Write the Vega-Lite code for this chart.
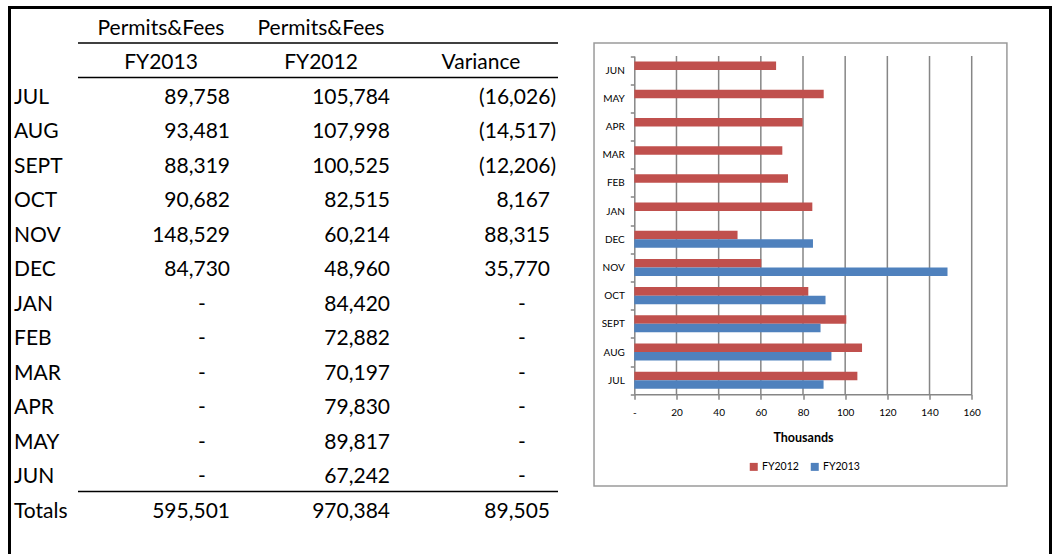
{
  "$schema": "https://vega.github.io/schema/vega-lite/v6.json",
  "autosize": {"type": "none"},
  "padding": {"left": 9.5, "top": 7.5, "right": 2.5, "bottom": 0},
  "width": 1041,
  "height": 552,
  "background": "#ffffff",
  "config": {
    "view": {"stroke": "#000000", "strokeWidth": 3},
    "font": "Lato",
    "text": {"font": "Lato", "fontSize": 21, "color": "#000000"}
  },
  "datasets": {
    "table": [
      {"row": "h1", "section": "header", "FY2013": "Permits&Fees", "FY2012": "Permits&Fees", "Variance": ""},
      {"row": "h2", "section": "header", "FY2013": "FY2013", "FY2012": "FY2012", "Variance": "Variance"},
      {"row": "JUL", "section": "body", "FY2013": "89,758", "FY2012": "105,784", "Variance": "(16,026)"},
      {"row": "AUG", "section": "body", "FY2013": "93,481", "FY2012": "107,998", "Variance": "(14,517)"},
      {"row": "SEPT", "section": "body", "FY2013": "88,319", "FY2012": "100,525", "Variance": "(12,206)"},
      {"row": "OCT", "section": "body", "FY2013": "90,682", "FY2012": "82,515", "Variance": "8,167"},
      {"row": "NOV", "section": "body", "FY2013": "148,529", "FY2012": "60,214", "Variance": "88,315"},
      {"row": "DEC", "section": "body", "FY2013": "84,730", "FY2012": "48,960", "Variance": "35,770"},
      {"row": "JAN", "section": "body", "FY2013": "-", "FY2012": "84,420", "Variance": "-"},
      {"row": "FEB", "section": "body", "FY2013": "-", "FY2012": "72,882", "Variance": "-"},
      {"row": "MAR", "section": "body", "FY2013": "-", "FY2012": "70,197", "Variance": "-"},
      {"row": "APR", "section": "body", "FY2013": "-", "FY2012": "79,830", "Variance": "-"},
      {"row": "MAY", "section": "body", "FY2013": "-", "FY2012": "89,817", "Variance": "-"},
      {"row": "JUN", "section": "body", "FY2013": "-", "FY2012": "67,242", "Variance": "-"},
      {"row": "Totals", "section": "total", "FY2013": "595,501", "FY2012": "970,384", "Variance": "89,505"}
    ],
    "months": [
      {"month": "JUL", "series": "FY2012", "value": 105.784},
      {"month": "AUG", "series": "FY2012", "value": 107.998},
      {"month": "SEPT", "series": "FY2012", "value": 100.525},
      {"month": "OCT", "series": "FY2012", "value": 82.515},
      {"month": "NOV", "series": "FY2012", "value": 60.214},
      {"month": "DEC", "series": "FY2012", "value": 48.96},
      {"month": "JAN", "series": "FY2012", "value": 84.42},
      {"month": "FEB", "series": "FY2012", "value": 72.882},
      {"month": "MAR", "series": "FY2012", "value": 70.197},
      {"month": "APR", "series": "FY2012", "value": 79.83},
      {"month": "MAY", "series": "FY2012", "value": 89.817},
      {"month": "JUN", "series": "FY2012", "value": 67.242},
      {"month": "JUL", "series": "FY2013", "value": 89.758},
      {"month": "AUG", "series": "FY2013", "value": 93.481},
      {"month": "SEPT", "series": "FY2013", "value": 88.319},
      {"month": "OCT", "series": "FY2013", "value": 90.682},
      {"month": "NOV", "series": "FY2013", "value": 148.529},
      {"month": "DEC", "series": "FY2013", "value": 84.73}
    ],
    "ticks": [{"t": 20}, {"t": 40}, {"t": 60}, {"t": 80}, {"t": 100}, {"t": 120}, {"t": 140}, {"t": 160}],
    "lines": [{"line": "h2"}, {"line": "JUL"}, {"line": "Totals"}],
    "frame": [{"frame": "chart"}]
  },
  "layer": [
    {
      "data": {"name": "table"},
      "layer": [
        {
          "transform": [{"filter": "datum.section != 'header'"}],
          "mark": {"type": "text", "align": "left", "dx": -64, "dy": 3},
          "encoding": {
            "x": {"datum": "FY2013", "type": "nominal", "bandPosition": 0, "axis": null,
                  "scale": {"type": "band", "domain": ["FY2013", "FY2012", "Variance"], "range": [68.5, 548.5], "paddingInner": 0, "paddingOuter": 0}},
            "y": {"field": "row", "type": "nominal", "axis": null,
                  "scale": {"type": "band", "domain": ["h1", "h2", "JUL", "AUG", "SEPT", "OCT", "NOV", "DEC", "JAN", "FEB", "MAR", "APR", "MAY", "JUN", "Totals"], "range": [1, 518.5], "paddingInner": 0, "paddingOuter": 0}},
            "text": {"field": "row"}
          }
        },
        {
          "transform": [
            {"fold": ["FY2013", "FY2012", "Variance"], "as": ["col", "text"]},
            {"filter": "datum.section == 'header'"}
          ],
          "mark": {"type": "text", "align": "center", "dx": 3, "dy": 3},
          "encoding": {
            "x": {"field": "col", "type": "nominal", "bandPosition": 0.5, "axis": null, "scale": {"type": "band"}},
            "y": {"field": "row", "type": "nominal", "axis": null},
            "text": {"field": "text"}
          }
        },
        {
          "transform": [
            {"fold": ["FY2013", "FY2012", "Variance"], "as": ["col", "text"]},
            {"filter": "datum.section != 'header' && datum.text != '-' && !test(/^\\(/, datum.text)"}
          ],
          "mark": {"type": "text", "align": "right", "dx": -8, "dy": 3},
          "encoding": {
            "x": {"field": "col", "type": "nominal", "bandPosition": 1, "axis": null, "scale": {"type": "band"}},
            "y": {"field": "row", "type": "nominal", "axis": null},
            "text": {"field": "text"}
          }
        },
        {
          "transform": [
            {"fold": ["FY2013", "FY2012", "Variance"], "as": ["col", "text"]},
            {"filter": "datum.section != 'header' && test(/^\\(/, datum.text)"}
          ],
          "mark": {"type": "text", "align": "right", "dx": -2, "dy": 3},
          "encoding": {
            "x": {"field": "col", "type": "nominal", "bandPosition": 1, "axis": null, "scale": {"type": "band"}},
            "y": {"field": "row", "type": "nominal", "axis": null},
            "text": {"field": "text"}
          }
        },
        {
          "transform": [
            {"fold": ["FY2013", "FY2012", "Variance"], "as": ["col", "text"]},
            {"filter": "datum.section != 'header' && datum.text == '-'"}
          ],
          "mark": {"type": "text", "align": "center", "dx": -36, "dy": 3},
          "encoding": {
            "x": {"field": "col", "type": "nominal", "bandPosition": 1, "axis": null, "scale": {"type": "band"}},
            "y": {"field": "row", "type": "nominal", "axis": null},
            "text": {"field": "text"}
          }
        },
        {
          "data": {"name": "lines"},
          "mark": {"type": "rule", "color": "#000000", "strokeWidth": 1.5},
          "encoding": {
            "x": {"datum": "FY2013", "type": "nominal", "bandPosition": 0, "axis": null, "scale": {"type": "band"}},
            "x2": {"datum": "Variance", "bandPosition": 1},
            "y": {"field": "line", "type": "nominal", "bandPosition": 0, "axis": null}
          }
        }
      ]
    },
    {
      "layer": [
        {
          "layer": [
            {
              "data": {"name": "frame"},
              "mark": {"type": "rect", "filled": false, "color": "#9a9a9a", "strokeWidth": 1.5},
              "encoding": {
                "x": {"datum": -19.1, "type": "quantitative", "axis": null},
                "x2": {"datum": 176.7},
                "y": {"datum": 12.46, "type": "quantitative", "axis": null,
                      "scale": {"domain": [0, 12], "range": [386.8, 48.5], "nice": false, "zero": false}},
                "y2": {"datum": -3.25}
              }
            },
            {
              "data": {"name": "ticks"},
              "mark": {"type": "rule", "color": "#868686", "strokeWidth": 1.5},
              "encoding": {
                "x": {"field": "t", "type": "quantitative", "axis": null},
                "y": {"datum": 0, "type": "quantitative", "axis": null},
                "y2": {"datum": 12}
              }
            }
          ]
        },
        {
          "data": {"name": "months"},
          "mark": {"type": "bar"},
          "encoding": {
            "x": {"field": "value", "type": "quantitative",
                  "scale": {"domain": [0, 160], "range": [624.8, 962.2], "nice": false, "zero": false},
                  "axis": {"orient": "bottom", "offset": -165.2, "values": [0, 20, 40, 60, 80, 100, 120, 140, 160],
                           "labelExpr": "datum.value == 0 ? '-' : datum.label", "grid": false, "labelFlush": false,
                           "tickSize": 5, "tickColor": "#868686", "tickWidth": 1.5, "domainColor": "#868686", "domainWidth": 1.5,
                           "labelFont": "Lato", "labelFontSize": 10, "labelColor": "#000000", "labelPadding": 8,
                           "title": "Thousands", "titleFont": "Lato", "titleFontSize": 12.5, "titleFontWeight": "bold", "titleColor": "#000000", "titlePadding": 14}},
            "y": {"field": "month", "type": "nominal",
                  "scale": {"domain": ["JUN", "MAY", "APR", "MAR", "FEB", "JAN", "DEC", "NOV", "OCT", "SEPT", "AUG", "JUL"], "range": [48.5, 386.8], "paddingInner": 0, "paddingOuter": 0},
                  "axis": {"orient": "left", "offset": -624.8, "tickBand": "extent", "tickSize": 4, "tickColor": "#868686", "tickWidth": 1.5,
                           "domainColor": "#868686", "domainWidth": 1.5, "labelFont": "Lato", "labelFontSize": 10, "labelColor": "#000000",
                           "labelPadding": 6, "title": null, "grid": false}},
            "yOffset": {"field": "series", "type": "nominal", "sort": ["FY2012", "FY2013"],
                        "scale": {"domain": ["FY2012", "FY2013"], "paddingInner": 0, "paddingOuter": 0.65}},
            "color": {"field": "series", "type": "nominal",
                      "scale": {"domain": ["FY2012", "FY2013"], "range": ["#C0504D", "#4F81BD"]},
                      "legend": {"orient": "none", "legendX": 739, "legendY": 454, "direction": "horizontal", "title": null,
                                 "symbolType": "square", "symbolSize": 64, "symbolStrokeWidth": 0, "labelFont": "Lato", "labelFontSize": 10.5,
                                 "labelColor": "#000000", "columnPadding": 10, "labelOffset": 3}}
          }
        }
      ],
      "resolve": {"scale": {"y": "independent"}, "axis": {"x": "independent", "y": "independent"}}
    }
  ],
  "resolve": {"scale": {"x": "independent", "y": "independent"}, "axis": {"x": "independent", "y": "independent"}}
}
